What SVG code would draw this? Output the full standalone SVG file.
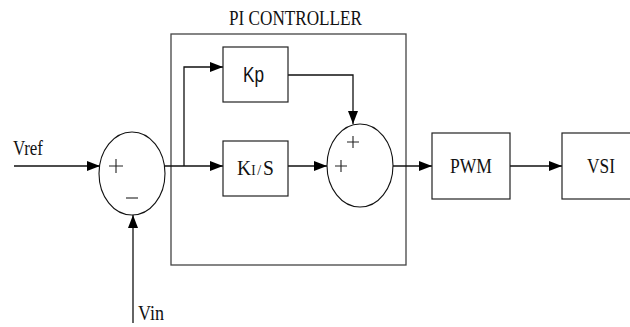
<svg xmlns="http://www.w3.org/2000/svg" width="630" height="327" viewBox="0 0 630 327">
<style>
.box{fill:#fff;stroke:#222;stroke-width:1.2}
.pi{fill:none;stroke:#444;stroke-width:1.3}
.sum{fill:#fff;stroke:#111;stroke-width:1.1}
.wire{fill:none;stroke:#111;stroke-width:1.3}
.sign{fill:none;stroke:#222;stroke-width:1.1}
.serif{font-family:"Liberation Serif","Times New Roman",serif;font-size:21px;fill:#111}
.sans{font-family:"Liberation Sans",Arial,sans-serif;font-size:22px;fill:#111}
</style>
<defs>
<marker id="arr" markerUnits="userSpaceOnUse" markerWidth="13" markerHeight="10" refX="13" refY="5" orient="auto">
<path d="M0,0 L13,5 L0,10 z" fill="#000"/>
</marker>
</defs>
<rect width="630" height="327" fill="#fff"/>
<g id="pi-controller">
<rect class="pi" x="171" y="34" width="235" height="231"/>
<text class="serif" x="229" y="25" textLength="133" lengthAdjust="spacingAndGlyphs">PI CONTROLLER</text>
</g>
<g id="connectors">
<path class="wire" d="M14,166 H100" marker-end="url(#arr)"/>
<path class="wire" d="M133,323 V215" marker-end="url(#arr)"/>
<path class="wire" d="M165,166 H223" marker-end="url(#arr)"/>
<path class="wire" d="M184,166 V67 H223" marker-end="url(#arr)"/>
<path class="wire" d="M288,75 H353 V124" marker-end="url(#arr)"/>
<path class="wire" d="M288,166 H327" marker-end="url(#arr)"/>
<path class="wire" d="M393,166 H432" marker-end="url(#arr)"/>
<path class="wire" d="M510,166 H562" marker-end="url(#arr)"/>
</g>
<g id="vref">
<text class="serif" x="13" y="155" textLength="30" lengthAdjust="spacingAndGlyphs">Vref</text>
</g>
<g id="vin">
<text class="serif" x="138" y="320" textLength="26" lengthAdjust="spacingAndGlyphs">Vin</text>
</g>
<g id="sum1">
<ellipse class="sum" cx="132" cy="173.5" rx="33" ry="41.5"/>
<path class="sign" d="M109,166 H123 M116,159 V173"/>
<path class="sign" d="M126,198 H138"/>
</g>
<g id="kp">
<rect class="box" x="223" y="47" width="65" height="55"/>
<text class="sans" x="243" y="82" textLength="21" lengthAdjust="spacingAndGlyphs">Kp</text>
</g>
<g id="ki">
<rect class="box" x="223" y="141" width="65" height="55"/>
<text class="serif" x="237" y="175" font-size="21" textLength="37" lengthAdjust="spacingAndGlyphs"><tspan>K</tspan><tspan font-size="14">I</tspan><tspan font-size="15" dx="2">/</tspan><tspan dx="2">S</tspan></text>
</g>
<g id="sum2">
<ellipse class="sum" cx="360" cy="165.5" rx="33" ry="41.5"/>
<path class="sign" d="M347,142 H359 M353,136 V148"/>
<path class="sign" d="M335,166 H347 M341,160 V172"/>
</g>
<g id="pwm">
<rect class="box" x="432" y="133" width="78" height="66"/>
<text class="serif" x="450" y="173" textLength="42" lengthAdjust="spacingAndGlyphs">PWM</text>
</g>
<g id="vsi">
<rect class="box" x="562" y="133" width="80" height="66"/>
<text class="serif" x="587" y="173" textLength="28" lengthAdjust="spacingAndGlyphs">VSI</text>
</g>
</svg>
